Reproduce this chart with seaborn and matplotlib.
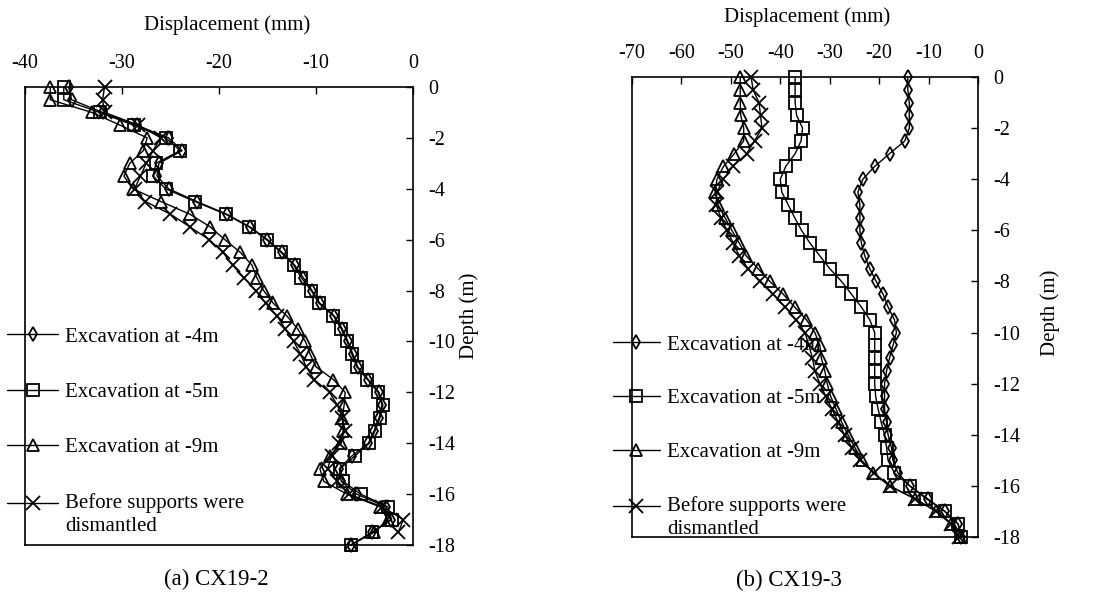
import matplotlib
matplotlib.use("Agg")
import matplotlib.pyplot as plt
from matplotlib.legend_handler import HandlerLine2D
import pandas as pd
import seaborn as sns

# ---------------- data ----------------
depth = [0, -0.5, -1, -1.5, -2, -2.5, -3, -3.5, -4, -4.5, -5, -5.5, -6, -6.5,
         -7, -7.5, -8, -8.5, -9, -9.5, -10, -10.5, -11, -11.5, -12, -12.5,
         -13, -13.5, -14, -14.5, -15, -15.5, -16, -16.5, -17, -17.5, -18]

series_names = ["Excavation at -4m", "Excavation at -5m", "Excavation at -9m",
                "Before supports were\ndismantled"]

# (a) CX19-2
a_exc4 = [-35.5, -35.2, -32.0, -28.5, -25.2, -23.8, -26.2, -26.4, -25.2, -22.3,
          -19.2, -16.8, -15.0, -13.5, -12.2, -11.3, -10.4, -9.6, -8.1, -7.3,
          -6.7, -6.2, -5.7, -4.6, -3.5, -3.2, -3.5, -4.0, -4.6, -6.3, -7.6,
          -7.4, -5.8, -2.8, -2.3, -4.2, -6.4]
a_exc5 = [-36.0, -36.0, -32.3, -28.8, -25.5, -24.0, -26.5, -26.8, -25.5, -22.5,
          -19.3, -16.9, -15.1, -13.6, -12.3, -11.5, -10.5, -9.7, -8.2, -7.4,
          -6.8, -6.3, -5.8, -4.7, -3.6, -3.1, -3.4, -3.9, -4.5, -6.0, -7.5,
          -7.2, -5.4, -2.6, -2.2, -4.2, -6.4]
a_exc9 = [-37.4, -37.4, -33.1, -30.2, -27.4, -27.8, -29.2, -29.8, -28.9, -26.0,
          -23.0, -20.9, -19.4, -17.8, -16.6, -16.1, -15.4, -14.4, -13.0, -11.9,
          -11.1, -10.6, -10.0, -8.2, -7.0, -7.1, -7.3, -7.2, -7.4, -8.6, -9.6,
          -9.2, -6.8, -3.4, -2.6, -4.0, -6.4]
a_before = [-31.8, -32.0, -31.8, -28.3, -26.0, -26.8, -27.5, -28.1, -28.7, -27.6,
            -25.0, -23.0, -21.0, -19.6, -18.6, -17.4, -16.2, -15.2, -14.0, -13.2,
            -12.3, -11.6, -11.0, -10.2, -8.6, -7.8, -7.3, -7.0, -7.6, -8.4, -8.8,
            -7.8, -6.6, -3.2, -1.0, -1.5]

# (b) CX19-3
b_exc4 = [-14.2, -14.2, -13.9, -13.9, -13.9, -14.8, -17.9, -20.9, -23.3, -24.3,
          -23.9, -23.9, -23.9, -23.6, -22.9, -21.9, -20.6, -19.2, -18.2, -16.9,
          -16.5, -17.2, -17.9, -18.5, -18.9, -18.9, -18.9, -18.5, -18.2, -17.5,
          -17.2, -16.2, -13.8, -10.2, -6.7, -4.0, -3.4]
b_exc5 = [-37.0, -37.0, -37.0, -36.7, -35.5, -35.8, -37.0, -38.9, -40.0, -39.7,
          -38.4, -37.1, -35.7, -34.0, -32.0, -30.0, -27.6, -25.6, -23.6, -21.9,
          -20.9, -20.9, -20.9, -20.9, -20.9, -20.7, -20.2, -19.6, -18.9, -18.5,
          -18.2, -16.9, -13.8, -10.5, -6.7, -4.0, -3.4]
b_exc9 = [-48.1, -48.1, -48.1, -48.0, -47.4, -47.4, -49.3, -51.5, -52.8, -53.2,
          -52.6, -51.2, -49.8, -48.3, -46.9, -44.5, -42.1, -39.4, -37.1, -34.7,
          -33.0, -32.0, -31.7, -31.0, -30.5, -29.8, -28.7, -27.6, -26.3, -24.9,
          -23.5, -21.2, -17.9, -12.8, -8.4, -5.4, -3.7]
b_before = [-45.9, -45.5, -44.3, -44.0, -43.7, -45.2, -46.8, -49.6, -51.5, -52.8,
            -53.0, -52.0, -50.8, -49.5, -48.3, -46.5, -44.2, -41.5, -39.0, -36.8,
            -35.0, -34.2, -33.5, -33.0, -32.0, -30.8, -29.5, -28.3, -27.0, -25.5,
            -23.8, -21.0, -17.9, -12.8, -8.4, -5.4, -3.8]

x_ticks_a = [-40, -30, -20, -10, 0]
x_ticks_b = [-70, -60, -50, -40, -30, -20, -10, 0]
y_ticks = [0, -2, -4, -6, -8, -10, -12, -14, -16, -18]
captions = ["(a) CX19-2", "(b) CX19-3"]
marker_list = ["d", "s", "^", "x"]
marker_sizes = [7, 8, 8, 9.5]


def long_frame(values_list):
    rows = []
    for name, vals in zip(series_names, values_list):
        for d, v in zip(depth, vals):
            rows.append({"series": name, "depth": d, "disp": v})
    return pd.DataFrame(rows)


df_a = long_frame([a_exc4, a_exc5, a_exc9, a_before])
df_b = long_frame([b_exc4, b_exc5, b_exc9, b_before])

# ---------------- style ----------------
sns.set_theme(style="white")
plt.rcParams["font.family"] = ["Liberation Serif", "DejaVu Serif"]
plt.rcParams["axes.unicode_minus"] = False
plt.rcParams["text.color"] = "black"
plt.rcParams["axes.labelcolor"] = "black"
plt.rcParams["legend.labelcolor"] = "black"

fig = plt.figure(figsize=(10.97, 5.97), dpi=100)
W, H = 1097, 597
axA = fig.add_axes([25 / W, 1 - 545 / H, 388 / W, 458 / H])
axB = fig.add_axes([632 / W, 1 - 537 / H, 346 / W, 460 / H])


def draw(ax, df, xlim, xticks):
    for name, m, ms in zip(series_names, marker_list, marker_sizes):
        sub = df[df["series"] == name]
        sns.lineplot(data=sub, x="disp", y="depth", orient="y", sort=False,
                     estimator=None, marker=m, color="black", ax=ax,
                     linewidth=1.0, markersize=ms, markeredgecolor="black",
                     markerfacecolor="none", markeredgewidth=1.3,
                     clip_on=False, legend=False)
    ax.set_xlim(*xlim)
    ax.set_ylim(-18, 0)
    ax.set_xticks(xticks)
    ax.set_yticks(y_ticks)
    ax.xaxis.tick_top()
    ax.yaxis.tick_right()
    ax.xaxis.set_label_position("top")
    ax.yaxis.set_label_position("right")
    ax.tick_params(axis="both", direction="in", length=5, width=1,
                   color="black", labelsize=14.5, labelcolor="black")
    ax.tick_params(axis="x", pad=10)
    ax.tick_params(axis="y", pad=11)
    for s in ax.spines.values():
        s.set_color("black")
        s.set_linewidth(1.2)
    ax.set_xlabel("Displacement (mm)", fontsize=15, color="black")
    ax.set_ylabel("Depth (m)", fontsize=15, color="black")


draw(axA, df_a, (-40, 0), x_ticks_a)
draw(axB, df_b, (-70, 0), x_ticks_b)

axA.xaxis.set_label_coords(0.52, 1.125)
axB.xaxis.set_label_coords(0.506, 1.12)
axA.yaxis.set_label_coords(1.12, 0.5)
axB.yaxis.set_label_coords(1.18, 0.487)


class FirstLineHandler(HandlerLine2D):
    """Line handle aligned with the first line of a two-line label."""

    def __init__(self, shift, **kw):
        super().__init__(**kw)
        self.shift = shift

    def create_artists(self, legend, orig_handle, xdescent, ydescent, width,
                       height, fontsize, trans):
        return super().create_artists(legend, orig_handle, xdescent,
                                      ydescent - 2 * self.shift, width,
                                      height, fontsize, trans)


def add_legend(ax, x0, y0, hl, ls):
    handles = ax.lines[:4]
    leg = fig.legend(handles=handles, labels=series_names, loc="upper left",
                     bbox_to_anchor=(x0 / W, 1 - y0 / H), frameon=False,
                     fontsize=15, handlelength=hl, handletextpad=0.35,
                     labelspacing=ls, borderpad=0, borderaxespad=0,
                     handler_map={handles[3]: FirstLineHandler(8.5)})
    leg.get_texts()[3].set_linespacing(1.3)
    for t in leg.get_texts():
        t.set_color("black")
    return leg


add_legend(axA, 7, 327, 2.45, 1.72)
add_legend(axB, 613, 335, 2.25, 1.64)

fig.text(216 / W, 1 - 579 / H, captions[0], ha="center", va="center",
         fontsize=16.5, color="black")
fig.text(789 / W, 1 - 580 / H, captions[1], ha="center", va="center",
         fontsize=16.5, color="black")

fig.savefig("out.png", dpi=100, facecolor="white")
